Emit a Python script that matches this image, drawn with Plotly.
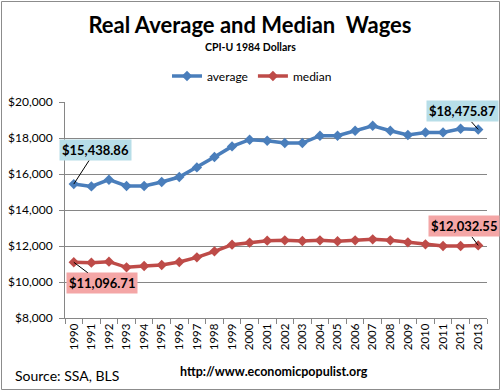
import plotly.graph_objects as go

years = [str(y) for y in range(1990, 2014)]
average = [15438.86, 15311, 15683, 15333, 15333, 15556, 15833, 16367, 16944, 17533,
           17906, 17850, 17722, 17722, 18128, 18128, 18406, 18683, 18406, 18167,
           18311, 18311, 18517, 18475.87]
median = [11096.71, 11074, 11130, 10815, 10889, 10944, 11111, 11370, 11704, 12074,
          12185, 12296, 12315, 12278, 12315, 12260, 12315, 12370, 12315, 12204,
          12093, 12000, 12000, 12032.55]
y_ticks = [8000, 10000, 12000, 14000, 16000, 18000, 20000]

FONT = "Lato, 'Open Sans', sans-serif"
BLUE = "#4A7EBB"
RED = "#BE4B48"

fig = go.Figure()
fig.add_trace(go.Scatter(x=years, y=average, name="average", mode="lines+markers",
                         line=dict(color=BLUE, width=3.5),
                         marker=dict(symbol="diamond", size=8, color=BLUE)))
fig.add_trace(go.Scatter(x=years, y=median, name="median", mode="lines+markers",
                         line=dict(color=RED, width=3.5),
                         marker=dict(symbol="diamond", size=8, color=RED)))

W, H = 501, 391
L, R, T, B = 65, 14, 102, 73
pw, ph = W - L - R, H - T - B

def px(xp):
    return (xp - L) / pw

def py(yp):
    return 1 - (yp - T) / ph

annotations = [
    dict(text="<b>CPI-U 1984 Dollars</b>", x=px(250), y=py(47), xref="paper", yref="paper",
         showarrow=False, font=dict(family=FONT, size=10.5, color="#000"), xanchor="center", yanchor="middle"),
    dict(text="Source: SSA, BLS", x=px(13), y=py(375), xref="paper", yref="paper",
         showarrow=False, font=dict(family=FONT, size=14, color="#000"), xanchor="left", yanchor="middle"),
    dict(text="<b>http://www.economicpopulist.org</b>", x=px(274), y=py(371), xref="paper", yref="paper",
         showarrow=False, font=dict(family=FONT, size=12.5, color="#000"), xanchor="center", yanchor="middle"),
]

last = len(years) - 1
labels = [
    (0, average[0], "$15,438.86", "#B7DEE8", 22, -34),
    (last, average[last], "$18,475.87", "#B7DEE8", -16, -18),
    (last, median[last], "$12,032.55", "#F4A6A6", -14, -19),
    (0, median[0], "$11,096.71", "#F4A6A6", 28, 21),
]
for xv, yv, txt, bg, ax, ay in labels:
    annotations.append(dict(x=xv, y=yv, xref="x", yref="y", text="<b>" + txt + "</b>",
                            showarrow=True, arrowhead=0, arrowwidth=1, arrowcolor="#000",
                            ax=ax, ay=ay, bgcolor=bg, borderpad=2,
                            font=dict(family=FONT, size=13, color="#000")))

fig.update_layout(
    width=W, height=H,
    margin=dict(l=L, r=R, t=T, b=B, autoexpand=False),
    paper_bgcolor="white", plot_bgcolor="white",
    title=dict(text="<b>Real Average and Median  Wages</b>", x=250 / W, xref="container", y=1 - 25 / H,
               yanchor="middle", xanchor="center",
               font=dict(family=FONT, size=22, color="#000")),
    legend=dict(orientation="h", x=px(252), y=py(76), xanchor="center", yanchor="middle",
                xref="paper", yref="paper",
                font=dict(family=FONT, size=12, color="#000"), itemwidth=30,
                bgcolor="rgba(0,0,0,0)"),
    xaxis=dict(type="category", tickangle=-90, tickson="boundaries", ticks="outside",
               ticklen=5, tickcolor="#868686", showline=True, linecolor="#868686",
               showgrid=False, tickfont=dict(family=FONT, size=11.5, color="#000"),
               range=[-0.5, len(years) - 0.5]),
    yaxis=dict(range=[8000, 20000], tickvals=y_ticks, tickformat="$,.0f",
               ticks="outside", ticklen=5, tickcolor="#868686", ticklabelstandoff=4,
               showline=True, linecolor="#868686", showgrid=True, gridcolor="#868686",
               gridwidth=1, zeroline=False,
               tickfont=dict(family=FONT, size=12, color="#000")),
    annotations=annotations,
    shapes=[dict(type="rect", xref="paper", yref="paper", layer="above",
                 x0=px(1.5), x1=px(499.5), y0=py(389.5), y1=py(1.5),
                 line=dict(color="#8C8C8C", width=1))],
    showlegend=True,
)

fig.write_html("out.html", config={"displayModeBar": False},
               post_script="document.body.style.margin='0';document.body.style.overflow='hidden';")
